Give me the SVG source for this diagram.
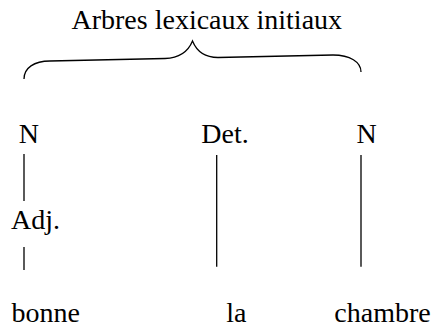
<svg xmlns="http://www.w3.org/2000/svg" width="437" height="329" viewBox="0 0 437 329">
<style>
text{font-family:'Liberation Serif','Times New Roman',Times,serif;font-size:28px;fill:#000}
.ln{stroke:#000;stroke-width:1.3;fill:none}
</style>
<rect width="437" height="329" fill="#fff"/>
<g id="title"><text x="71.5" y="29" font-family="Liberation Serif, serif">Arbres lexicaux initiaux</text></g>
<g id="brace"><path class="ln" stroke-width="1.5" d="M24,79 C24,68 34,61 50,61 L165,58.5 C178,58 188,52 192.5,41 C197,52 206,57.5 218,57.5 L333,55 C350,55 361,62 361,72"/></g>
<g id="n1"><text x="18.7" y="142.5" font-family="Liberation Serif, serif">N</text></g>
<g id="adj"><text x="11" y="229.3" font-family="Liberation Serif, serif">Adj.</text></g>
<g id="bonne"><text x="11.5" y="321.5" font-family="Liberation Serif, serif">bonne</text></g>
<g id="det"><text x="201.3" y="142.5" font-family="Liberation Serif, serif">Det.</text></g>
<g id="la"><text x="226.2" y="321.5" font-family="Liberation Serif, serif">la</text></g>
<g id="n2"><text x="356.4" y="142.5" font-family="Liberation Serif, serif">N</text></g>
<g id="chambre"><text x="334.3" y="321.5" font-family="Liberation Serif, serif">chambre</text></g>
<g id="connectors">
<line class="ln" x1="24" y1="154" x2="24" y2="201"/>
<line class="ln" x1="24" y1="247" x2="24" y2="270"/>
<line class="ln" x1="216.7" y1="155" x2="216.7" y2="266.7"/>
<line class="ln" x1="361" y1="155" x2="361" y2="266.7"/>
</g>
</svg>
